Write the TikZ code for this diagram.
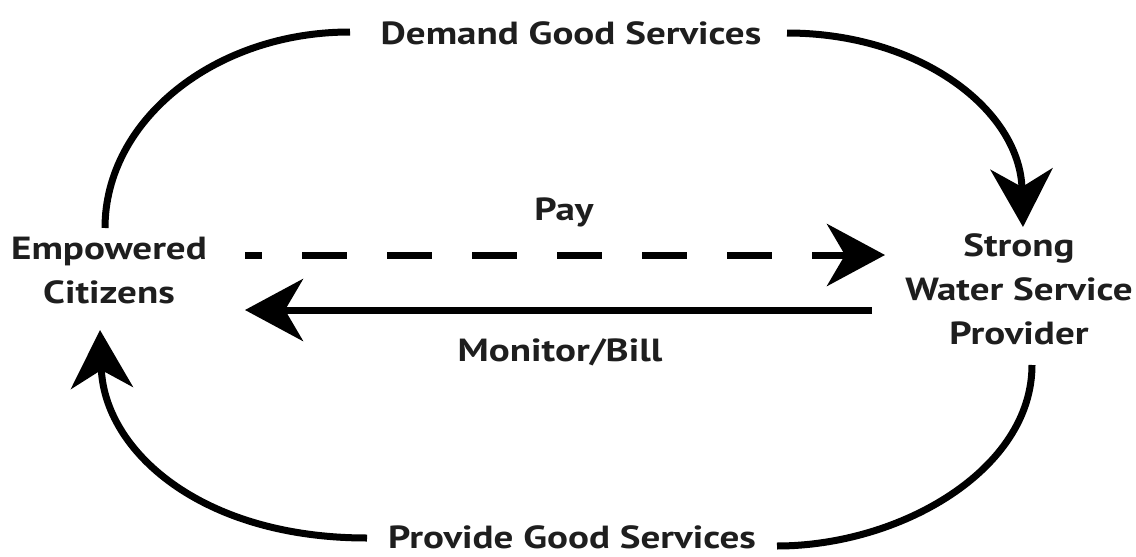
\documentclass[tikz,border=0pt]{standalone}
\usepackage{fontspec}
\setmainfont{PT Sans}[FakeStretch=1.22]
\usetikzlibrary{arrows.meta}
\definecolor{ink}{HTML}{1E1E1E}
\begin{document}
\begin{tikzpicture}[x=1pt,y=-1pt,
  lbl/.style={font=\bfseries\fontsize{32}{44}\selectfont, text=ink, align=center, inner sep=0pt},
  link/.style={line width=7pt, draw=black},
  head/.style={-{Stealth[length=58pt,width=62pt,inset=18pt]}},
  paydash/.style={dash pattern=on 45pt off 40pt, dash phase=28pt}]
\useasboundingbox (0,0) rectangle (1136,557);

% actors
\node[lbl] (cit) at (109,271) {Empowered\\Citizens};
\node[lbl] (wsp) at (1019,289) {Strong\\Water Service\\Provider};

% loop labels
\node[lbl] (dem) at (571,33) {Demand Good Services};
\node[lbl] (pro) at (572,537) {Provide Good Services};
\node[lbl] (pay) at (564,212) {Pay};
\node[lbl] (mon) at (560,352) {Monitor/Bill};

% connector end points
\coordinate (c1) at (105,228);
\coordinate (d1) at (350,32);
\coordinate (d2) at (787,33);
\coordinate (w1) at (1023,227);
\coordinate (w2) at (1032,365);
\coordinate (p2) at (777,546);
\coordinate (p1) at (367,538);
\coordinate (c2) at (100,330);
\coordinate (payS) at (245,255);
\coordinate (payE) at (885,255);
\coordinate (monS) at (872,310);
\coordinate (monE) at (245,310);

% outer loop
\draw[link] (c1) .. controls (105,120) and (215,32) .. (d1);
\draw[link,head] (d2) .. controls (920,33) and (1020,110) .. (w1);
\draw[link] (w2) .. controls (1032,470) and (900,546) .. (p2);
\draw[link,head] (p1) .. controls (200,538) and (104,450) .. (c2);

% inner exchange
\draw[link,paydash,head] (payS) -- (payE);
\draw[link,head] (monS) -- (monE);
\end{tikzpicture}
\end{document}
